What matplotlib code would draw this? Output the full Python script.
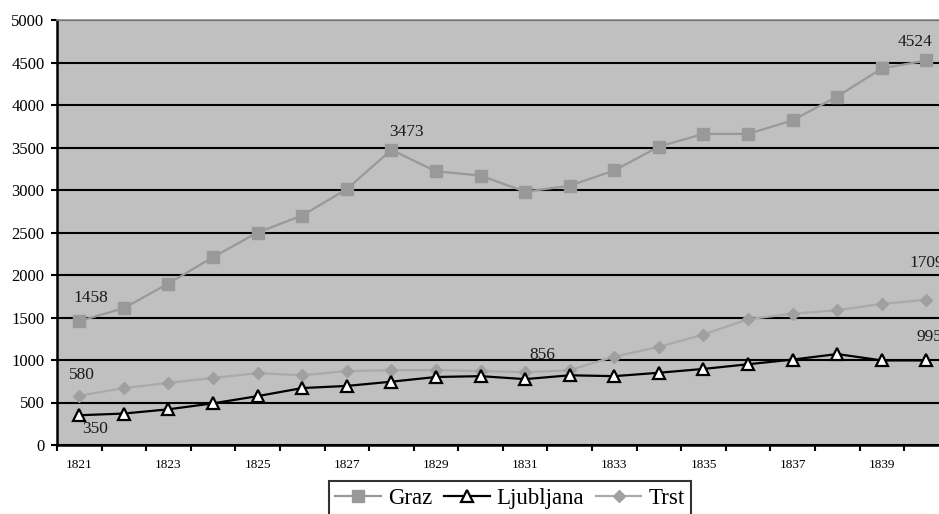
import matplotlib
matplotlib.use("Agg")
import matplotlib.pyplot as plt
from matplotlib.ticker import FixedLocator, NullFormatter

plt.rcParams['font.family'] = ['Liberation Serif', 'DejaVu Serif']

years = list(range(1821, 1841))
graz = [1458, 1610, 1900, 2210, 2500, 2700, 3010, 3473, 3220, 3170,
        2980, 3050, 3230, 3510, 3660, 3660, 3820, 4100, 4430, 4524]
ljubljana = [350, 370, 420, 490, 575, 670, 695, 745, 800, 810,
             775, 820, 810, 850, 895, 950, 1005, 1070, 995, 995]
trst = [580, 670, 730, 790, 845, 820, 870, 880, 880, 870,
        856, 880, 1040, 1155, 1300, 1480, 1545, 1585, 1660, 1709]
series_names = ["Graz", "Ljubljana", "Trst"]
xtick_labels = [str(y) for y in range(1821, 1841, 2)]
yticks = list(range(0, 5001, 500))

W, H = 939, 514
fig = plt.figure(figsize=(W / 100, H / 100), dpi=100)
left, right, top, bottom = 57, 948.7, 20, 445
ax = fig.add_axes([left / W, 1 - bottom / H, (right - left) / W, (bottom - top) / H])
ax.set_facecolor('#c0c0c0')

ax.plot(years, graz, color='#999999', lw=1.6, marker='s', ms=8.6,
        mfc='#999999', mec='#999999', label=series_names[0], zorder=3)
ax.plot(years, ljubljana, color='black', lw=1.6, marker='^', ms=9,
        mfc='white', mec='black', mew=1.6, label=series_names[1], zorder=4)
ax.plot(years, trst, color='#aaaaaa', lw=1.6, marker='D', ms=6.2,
        mfc='#a0a0a0', mec='#a0a0a0', label=series_names[2], zorder=3)

ax.set_xlim(1820.5, 1840.5)
ax.set_ylim(0, 5000)
ax.set_yticks(yticks)
ax.yaxis.grid(True, color='black', lw=1.5)
ax.set_axisbelow(True)
ax.tick_params(axis='y', length=4.5, width=1.5, pad=4.5, labelsize=12)

# category boundaries as major ticks, labels as minor ticks
ax.xaxis.set_major_locator(FixedLocator([y - 0.5 for y in years] + [1840.5]))
ax.xaxis.set_major_formatter(NullFormatter())
ax.xaxis.set_minor_locator(FixedLocator(list(range(1821, 1841, 2))))
ax.set_xticklabels(xtick_labels, minor=True)
ax.tick_params(axis='x', which='major', length=4, width=1.5)
ax.tick_params(axis='x', which='minor', length=0, pad=10, labelsize=9.5)

for s in ['left', 'bottom']:
    ax.spines[s].set_color('black')
    ax.spines[s].set_linewidth(1.8)
ax.spines['top'].set_color('#8c8c8c')
ax.spines['top'].set_linewidth(1.2)
ax.spines['right'].set_visible(False)

# data labels (series, index, offset in points)
labels = [
    (graz, 0, (8.6, 16.6)),
    (graz, 7, (10.8, 13)),
    (graz, 19, (-7.9, 13)),
    (trst, 0, (2.2, 15.1)),
    (trst, 10, (12.2, 12.2)),
    (trst, 19, (0, 26.6)),
    (ljubljana, 0, (11.5, -10)),
    (ljubljana, 19, (2.5, 16.6)),
]
for data, i, off in labels:
    ax.annotate(str(data[i]), (years[i], data[i]), xytext=off,
                textcoords='offset points', ha='center', va='center',
                fontsize=12.5, color='#1a1a1a', annotation_clip=False, zorder=5)

leg = fig.legend(loc='upper center', bbox_to_anchor=(510 / W, 1 - 481 / H),
                 ncol=3, frameon=True, fancybox=False, fontsize=16.5,
                 handlelength=2.0, handletextpad=0.3, columnspacing=0.5,
                 borderpad=0.3, borderaxespad=0)
leg.get_frame().set_edgecolor('black')
leg.get_frame().set_linewidth(1.5)

fig.savefig('out.png', dpi=100)
